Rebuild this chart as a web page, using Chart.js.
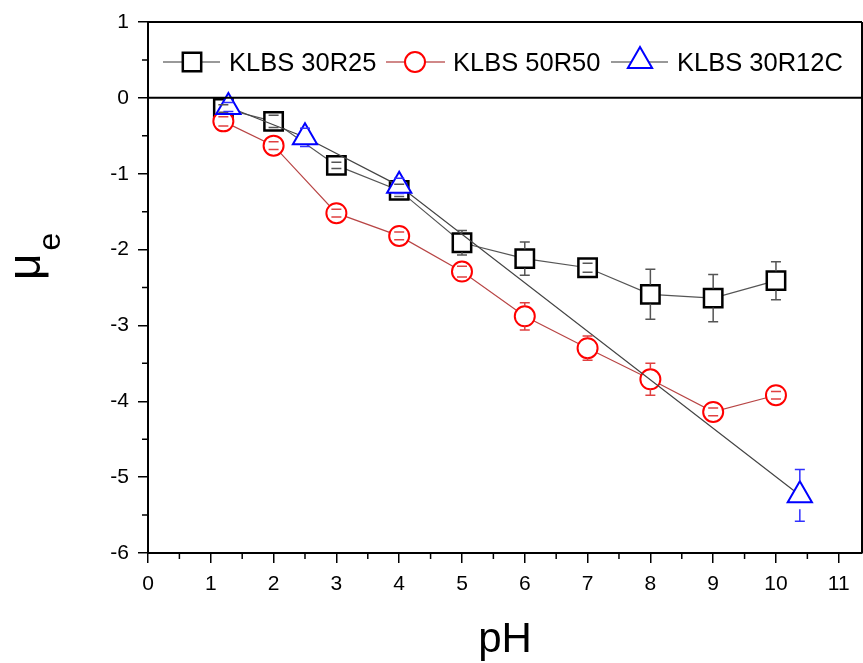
<!DOCTYPE html>
<html>
<head>
<meta charset="utf-8">
<script src="https://cdn.jsdelivr.net/npm/chart.js@4.4.0/dist/chart.umd.min.js"></script>
<style>
body { margin: 0; background: #fff; }
canvas { display: block; }
</style>
</head>
<body>
<canvas id="chart" width="863" height="663"></canvas>
<script>
// KLBS 30R25
const pH30R25 = [1.2, 2, 3, 4, 5, 6, 7, 8, 9, 10];
const mu30R25 = [-0.14, -0.31, -0.89, -1.22, -1.91, -2.12, -2.24, -2.59, -2.64, -2.41];
const err30R25 = [0.05, 0.08, 0.04, 0.08, 0.16, 0.22, 0.06, 0.33, 0.31, 0.25];

// KLBS 50R50
const pH50R50 = [1.2, 2, 3, 4, 5, 6, 7, 8, 9, 10];
const mu50R50 = [-0.31, -0.63, -1.52, -1.82, -2.29, -2.88, -3.3, -3.71, -4.14, -3.92];
const err50R50 = [0.06, 0.05, 0.05, 0.05, 0.07, 0.18, 0.16, 0.21, 0.05, 0.05];

// KLBS 30R12C
const pH30R12C = [1.28, 2.5, 4, 10.38];
const mu30R12C = [-0.12, -0.52, -1.16, -5.24];
const err30R12C = [0.06, 0.12, 0.1, 0.34];

const xTicks = [0, 1, 2, 3, 4, 5, 6, 7, 8, 9, 10, 11];
const yTicks = [1, 0, -1, -2, -3, -4, -5, -6];

const FONT = "'Liberation Sans', Arial, sans-serif";

function points(xs, ys) {
    return xs.map((x, i) => ({x: x, y: ys[i]}));
}

const series = [
    {label: "KLBS 30R25", x: pH30R25, y: mu30R25, err: err30R25, style: "rect", radius: 13, bw: 2.5,
     line: "#555", mark: "#000", bar: "#555", skip: 9.5},
    {label: "KLBS 50R50", x: pH50R50, y: mu50R50, err: err50R50, style: "circle", radius: 10, bw: 2,
     line: "#b84545", mark: "#ff0000", bar: "#e04040", skip: 10},
    {label: "KLBS 30R12C", x: pH30R12C, y: mu30R12C, err: err30R12C, style: "triangle", radius: 14, bw: 2,
     line: "#444", mark: "#0000ff", bar: "#3030ff", skip: 14},
];

// error bars, drawn on top of the hollow markers
const errorBars = {
    id: "errorBars",
    afterDatasetsDraw(chart) {
        const ctx = chart.ctx, xs = chart.scales.x, ys = chart.scales.y;
        ctx.save();
        ctx.lineWidth = 1.5;
        series.forEach(s => {
            ctx.strokeStyle = s.bar;
            s.x.forEach((xv, i) => {
                const px = xs.getPixelForValue(xv);
                const py = ys.getPixelForValue(s.y[i]);
                const top = ys.getPixelForValue(s.y[i] + s.err[i]);
                const bot = ys.getPixelForValue(s.y[i] - s.err[i]);
                ctx.beginPath();
                if (top < py - s.skip) { ctx.moveTo(px, top); ctx.lineTo(px, py - s.skip); }
                if (bot > py + s.skip) { ctx.moveTo(px, py + s.skip); ctx.lineTo(px, bot); }
                ctx.moveTo(px - 5, top); ctx.lineTo(px + 5, top);
                ctx.moveTo(px - 5, bot); ctx.lineTo(px + 5, bot);
                ctx.stroke();
            });
        });
        ctx.restore();
    }
};

// frame, zero line, minor ticks, legend, axis titles
const decorations = {
    id: "decorations",
    afterDraw(chart) {
        const ctx = chart.ctx, a = chart.chartArea, xs = chart.scales.x, ys = chart.scales.y;
        ctx.save();
        ctx.strokeStyle = "#000";
        ctx.lineWidth = 2;
        ctx.beginPath();
        ctx.moveTo(a.left, a.top); ctx.lineTo(a.right, a.top);
        ctx.moveTo(a.right, a.top); ctx.lineTo(a.right, a.bottom);
        const y0 = ys.getPixelForValue(0);
        ctx.moveTo(a.left, y0); ctx.lineTo(a.right, y0);
        ctx.stroke();

        ctx.lineWidth = 1.5;
        ctx.beginPath();
        for (let v = 0.5; v < 11.4; v += 1) {
            const px = xs.getPixelForValue(v);
            ctx.moveTo(px, a.bottom); ctx.lineTo(px, a.bottom + 6);
        }
        for (let v = -5.5; v < 1; v += 1) {
            const py = ys.getPixelForValue(v);
            ctx.moveTo(a.left, py); ctx.lineTo(a.left - 6, py);
        }
        ctx.stroke();

        // legend
        const items = [
            {x1: 163, x2: 220, mx: 192, tx: 229},
            {x1: 386, x2: 445, mx: 415, tx: 453},
            {x1: 611, x2: 668, mx: 640, tx: 677},
        ];
        const ly = 62;
        items.forEach((it, i) => {
            const s = series[i];
            ctx.strokeStyle = i === 1 ? "#c06060" : "#777";
            ctx.lineWidth = 1.5;
            ctx.beginPath();
            ctx.moveTo(it.x1, ly); ctx.lineTo(it.x2, ly);
            ctx.stroke();
            ctx.fillStyle = "#fff";
            ctx.strokeStyle = s.mark;
            ctx.lineWidth = s.bw;
            Chart.helpers.drawPoint(ctx, {pointStyle: s.style, radius: s.radius, borderWidth: s.bw, rotation: 0},
                it.mx, s.style === "triangle" ? ly - 1 : ly);
            ctx.fillStyle = "#000";
            ctx.font = "25.5px " + FONT;
            ctx.textAlign = "left";
            ctx.textBaseline = "alphabetic";
            ctx.fillText(s.label, it.tx, 71);
        });

        // axis titles
        ctx.fillStyle = "#000";
        ctx.font = "42px " + FONT;
        ctx.textAlign = "center";
        ctx.fillText("pH", (a.left + a.right) / 2, 652);

        ctx.translate(40, 280);
        ctx.rotate(-Math.PI / 2);
        ctx.textAlign = "left";
        ctx.font = "46px " + FONT;
        ctx.fillText("\u03bc", 0, 0);
        const w = ctx.measureText("\u03bc").width;
        ctx.font = "32px " + FONT;
        ctx.fillText("e", w + 3, 20);
        ctx.restore();
    }
};

new Chart(document.getElementById("chart"), {
    type: "scatter",
    data: {
        // later series are drawn on top, as in the original plot
        datasets: series.map((s, i) => ({
            label: s.label,
            data: points(s.x, s.y),
            order: series.length - i,
            showLine: true,
            borderColor: s.line,
            borderWidth: 1.2,
            pointStyle: s.style,
            pointRadius: s.radius,
            pointBorderColor: s.mark,
            pointBackgroundColor: "#fff",
            pointBorderWidth: s.bw,
            tension: 0,
        }))
    },
    options: {
        responsive: false,
        animation: false,
        layout: {autoPadding: false, padding: {top: 22, right: 1, left: 0, bottom: 0}},
        plugins: {
            legend: {display: false},
            tooltip: {enabled: false},
        },
        scales: {
            x: {
                type: "linear",
                min: 0,
                max: 11.37,
                afterBuildTicks: s => { s.ticks = xTicks.map(v => ({value: v})); },
                afterFit: s => { s.height = 110; s.paddingLeft = 0; s.paddingRight = 0; },
                grid: {drawOnChartArea: false, drawTicks: true, tickLength: 10, color: "#000", lineWidth: 1.5},
                border: {display: true, color: "#000", width: 2},
                ticks: {color: "#000", font: {family: FONT, size: 21}, padding: 9, maxRotation: 0},
            },
            y: {
                type: "linear",
                min: -6,
                max: 1,
                afterBuildTicks: s => { s.ticks = yTicks.map(v => ({value: v})); },
                afterFit: s => { s.width = 148; s.paddingTop = 0; s.paddingBottom = 0; },
                grid: {drawOnChartArea: false, drawTicks: true, tickLength: 10, color: "#000", lineWidth: 1.5},
                border: {display: true, color: "#000", width: 2},
                ticks: {color: "#000", font: {family: FONT, size: 21}, padding: 9},
            }
        }
    },
    plugins: [errorBars, decorations]
});
</script>
</body>
</html>
